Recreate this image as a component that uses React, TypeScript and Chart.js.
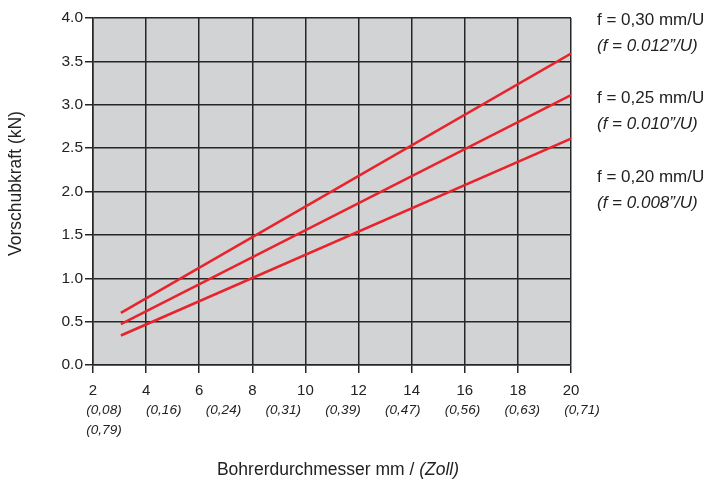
import React, { useEffect, useRef } from 'react';
import { Chart, registerables } from 'chart.js';

Chart.register(...registerables);

const diameters = [3.05, 20];
const force030 = [0.6, 3.59];
const force025 = [0.47, 3.11];
const force020 = [0.34, 2.61];
const xTickValues = [2, 4, 6, 8, 10, 12, 14, 16, 18, 20];
const inchLabels = ['(0,08)', '(0,16)', '(0,24)', '(0,31)', '(0,39)', '(0,47)', '(0,56)', '(0,63)', '(0,71)', '(0,79)'];
const legendMetric = ['f = 0,30 mm/U', 'f = 0,25 mm/U', 'f = 0,20 mm/U'];
const legendInch = ['(f = 0.012\u201D/U)', '(f = 0.010\u201D/U)', '(f = 0.008\u201D/U)'];
const yTitle = 'Vorschubkraft (kN)';
const xTitleMain = 'Bohrerdurchmesser mm / ';
const xTitleItalic = '(Zoll)';

const FONT = '"Liberation Sans", Arial, sans-serif';
const RED = '#e8232b';
const GRID = '#262626';

const decorPlugin = {
  id: 'decor',
  beforeDraw(chart: any) {
    const { ctx, chartArea } = chart;
    ctx.save();
    ctx.fillStyle = '#d2d3d5';
    ctx.fillRect(chartArea.left, chartArea.top, chartArea.right - chartArea.left, chartArea.bottom - chartArea.top);
    ctx.restore();
  },
  afterDraw(chart: any) {
    const { ctx, chartArea } = chart;
    const xs = chart.scales.x;
    ctx.save();
    ctx.fillStyle = '#222';
    // inch labels row
    ctx.font = `italic 13.5px ${FONT}`;
    ctx.textAlign = 'center';
    ctx.textBaseline = 'middle';
    const step = (xs.right - xs.left) / 8;
    const base = xs.getPixelForValue(xTickValues[0]) + 11;
    inchLabels.forEach((lab, i) => {
      if (i < 9) ctx.fillText(lab, base + i * step, chartArea.bottom + 45);
      else ctx.fillText(lab, base, chartArea.bottom + 65);
    });
    // x title
    const cx = (xs.left + xs.right) / 2 + 6;
    ctx.font = `17.5px ${FONT}`;
    const w1 = ctx.measureText(xTitleMain).width;
    ctx.font = `italic 17.5px ${FONT}`;
    const w2 = ctx.measureText(xTitleItalic).width;
    const sx = cx - (w1 + w2) / 2;
    ctx.textAlign = 'left';
    ctx.font = `17.5px ${FONT}`;
    ctx.fillText(xTitleMain, sx, 470);
    ctx.font = `italic 17.5px ${FONT}`;
    ctx.fillText(xTitleItalic, sx + w1, 470);
    // legend
    legendMetric.forEach((lab, i) => {
      const y = chartArea.top + 2 + i * 78.5;
      ctx.font = `17px ${FONT}`;
      ctx.fillText(lab, chartArea.right + 26, y);
      ctx.font = `italic 17px ${FONT}`;
      ctx.fillText(legendInch[i], chartArea.right + 26, y + 26);
    });
    // y title
    ctx.translate(16, (chartArea.top + chartArea.bottom) / 2 - 8);
    ctx.rotate(-Math.PI / 2);
    ctx.textAlign = 'center';
    ctx.font = `17.5px ${FONT}`;
    ctx.fillText(yTitle, 0, 0);
    ctx.restore();
  },
};

export default function App() {
  const ref = useRef<HTMLCanvasElement>(null);
  useEffect(() => {
    if (!ref.current) return;
    const mk = (vals: number[]) => diameters.map((d, i) => ({ x: d, y: vals[i] }));
    const chart = new Chart(ref.current, {
      type: 'line',
      data: {
        datasets: [
          { data: mk(force030), borderColor: RED, borderWidth: 2.5, pointRadius: 0, fill: false },
          { data: mk(force025), borderColor: RED, borderWidth: 2.5, pointRadius: 0, fill: false },
          { data: mk(force020), borderColor: RED, borderWidth: 2.5, pointRadius: 0, fill: false },
        ],
      },
      options: {
        responsive: false,
        animation: false,
        layout: { padding: { top: 18, right: 138, left: 0, bottom: 0 } },
        plugins: { legend: { display: false }, tooltip: { enabled: false } },
        scales: {
          x: {
            type: 'linear',
            min: 2,
            max: 20,
            afterBuildTicks(scale: any) {
              scale.ticks = xTickValues.map((v) => ({ value: v }));
            },
            afterFit(scale: any) {
              scale.height = 486 - 365;
            },
            ticks: {
              color: '#222',
              font: { family: FONT, size: 15 },
              padding: 9,
              maxRotation: 0,
              callback: (v: any) => String(v),
            },
            grid: { color: GRID, lineWidth: 1.5, tickLength: 8, drawTicks: true },
            border: { color: GRID, width: 1.5 },
          },
          y: {
            type: 'linear',
            min: 0,
            max: 4,
            afterFit(scale: any) {
              scale.width = 93;
            },
            ticks: {
              stepSize: 0.5,
              color: '#222',
              font: { family: FONT, size: 15.5 },
              padding: 2,
              callback: (v: any) => Number(v).toFixed(1),
            },
            grid: { color: GRID, lineWidth: 1.5, tickLength: 8 },
            border: { color: GRID, width: 1.5 },
          },
        },
      },
      plugins: [decorPlugin],
    });
    return () => chart.destroy();
  }, []);
  return (
    <div style={{ position: 'fixed', left: 0, top: 0, width: 709, height: 486, background: '#fff' }}>
      <canvas ref={ref} width={709} height={486} />
    </div>
  );
}
